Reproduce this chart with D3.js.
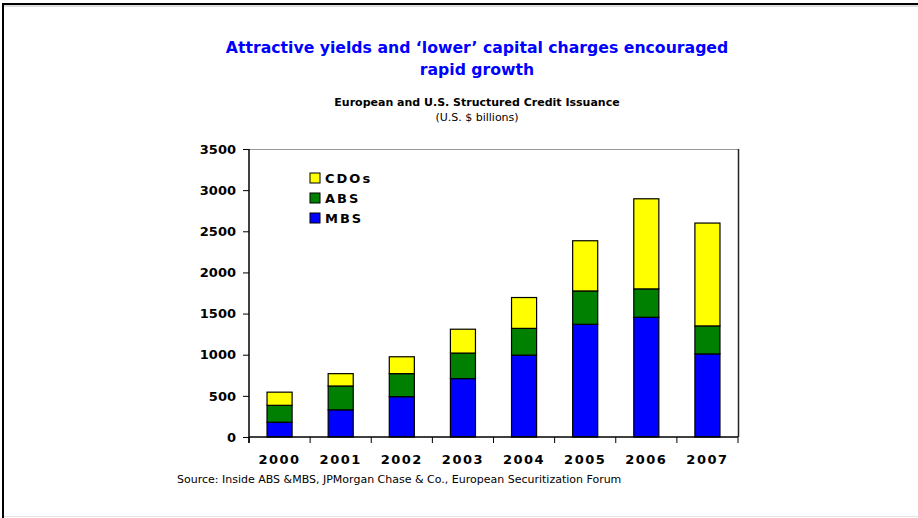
<!DOCTYPE html>
<html>
<head>
<meta charset="utf-8">
<script src="https://cdn.jsdelivr.net/npm/d3@7"></script>
<style>
  body { margin: 0; background: #fff; }
  svg { display: block; }
</style>
</head>
<body>
<svg id="chart"></svg>
<script>
var years = ["2000", "2001", "2002", "2003", "2004", "2005", "2006", "2007"];
var mbs = [180, 330, 490, 710, 995, 1370, 1455, 1010];
var abs = [205, 290, 280, 310, 325, 405, 345, 340];
var cdos = [160, 150, 205, 290, 375, 610, 1095, 1250];
var yTicks = [0, 500, 1000, 1500, 2000, 2500, 3000, 3500];
var seriesNames = ["MBS", "ABS", "CDOs"];
var seriesColors = ["#0000ff", "#008000", "#ffff00"];

var svgWidth = 918;
var svgHeight = 518;
var xMargin = 249;
var yMargin = 149;
var width = 489;
var height = 288;
var font = "Tahoma, 'DejaVu Sans', Verdana, sans-serif";

var svg = d3.select("#chart")
    .attr("width", svgWidth)
    .attr("height", svgHeight)
    .style("font-family", font);

// slide frame
svg.append("line").attr("x1", 2).attr("x2", svgWidth).attr("y1", 6).attr("y2", 6)
    .attr("stroke", "#bbb").attr("stroke-width", 1);
svg.append("line").attr("x1", 2).attr("x2", svgWidth).attr("y1", 4).attr("y2", 4)
    .attr("stroke", "#000").attr("stroke-width", 2);
svg.append("line").attr("x1", 3).attr("x2", 3).attr("y1", 3).attr("y2", svgHeight)
    .attr("stroke", "#000").attr("stroke-width", 2);
svg.append("line").attr("x1", 4).attr("x2", svgWidth).attr("y1", 516.5).attr("y2", 516.5)
    .attr("stroke", "#e4e4e4").attr("stroke-width", 1);

// titles
var title = svg.append("text")
    .attr("text-anchor", "middle")
    .attr("fill", "#0000ff")
    .attr("font-weight", "bold")
    .attr("font-size", "15.7px");
title.append("tspan").attr("x", 477).attr("y", 53).text("Attractive yields and \u2018lower\u2019 capital charges encouraged");
title.append("tspan").attr("x", 477).attr("y", 75).text("rapid growth");

svg.append("text")
    .attr("x", 477).attr("y", 106)
    .attr("text-anchor", "middle")
    .attr("font-weight", "bold")
    .attr("font-size", "11px")
    .text("European and U.S. Structured Credit Issuance");
svg.append("text")
    .attr("x", 477).attr("y", 121)
    .attr("text-anchor", "middle")
    .attr("font-size", "11px")
    .text("(U.S. $ billions)");

var xScale = d3.scaleBand()
    .domain(years)
    .range([0, width])
    .paddingInner(0.59)
    .paddingOuter(0.295);

var yScale = d3.scaleLinear()
    .domain([0, 3500])
    .range([height, 0]);

var g = svg.append("g")
    .attr("transform", "translate(" + xMargin + ", " + yMargin + ")");

// plot border
g.append("line").attr("x1", 0).attr("x2", width).attr("y1", 0.5).attr("y2", 0.5)
    .attr("stroke", "#999").attr("stroke-width", 1);
g.append("line").attr("x1", width + 0.5).attr("x2", width + 0.5).attr("y1", 0).attr("y2", height)
    .attr("stroke", "#222").attr("stroke-width", 1.5);

var stackData = years.map(function(y, i) {
    return { year: y, MBS: mbs[i], ABS: abs[i], CDOs: cdos[i] };
});
var stacked = d3.stack().keys(seriesNames)(stackData);

g.selectAll(".layer")
    .data(stacked)
    .enter()
    .append("g")
    .attr("class", "layer")
    .attr("fill", function(d, i) { return seriesColors[i]; })
    .selectAll("rect")
    .data(function(d) { return d; })
    .enter()
    .append("rect")
    .attr("x", function(d) { return xScale(d.data.year); })
    .attr("width", xScale.bandwidth())
    .attr("y", function(d) { return yScale(d[1]); })
    .attr("height", function(d) { return yScale(d[0]) - yScale(d[1]); })
    .attr("stroke", "#000")
    .attr("stroke-width", 1.2);

// y axis
var yAxis = g.append("g")
    .attr("class", "yAxis")
    .call(d3.axisLeft(yScale).tickValues(yTicks).tickFormat(d3.format("d")).tickSize(6).tickPadding(7));
yAxis.select(".domain").attr("d", "M0,0V" + (height + 6)).attr("stroke", "#000").attr("stroke-width", 1.5);
yAxis.selectAll(".tick line").attr("stroke", "#000");
yAxis.selectAll(".tick text")
    .attr("font-family", font)
    .attr("font-weight", "bold")
    .attr("font-size", "13px")
    .attr("fill", "#000");

// x axis with ticks between categories
var xAxis = g.append("g")
    .attr("class", "xAxis")
    .attr("transform", "translate(0, " + height + ")")
    .call(d3.axisBottom(xScale).tickSize(0).tickPadding(18));
xAxis.select(".domain").attr("d", "M0,0H" + width).attr("stroke", "#000").attr("stroke-width", 1.5);
xAxis.selectAll(".tick text")
    .attr("font-family", font)
    .attr("font-weight", "bold")
    .attr("font-size", "13px")
    .attr("letter-spacing", "1.5px")
    .attr("fill", "#000");
var step = xScale.step();
xAxis.selectAll(".sep")
    .data(d3.range(years.length + 1))
    .enter()
    .append("line")
    .attr("x1", function(d) { return d * step; })
    .attr("x2", function(d) { return d * step; })
    .attr("y1", 0).attr("y2", 6)
    .attr("stroke", "#000");

// legend
var legend = svg.append("g").attr("transform", "translate(310, 173)");
var legendItems = seriesNames.slice().reverse();
var legendColors = seriesColors.slice().reverse();
legendItems.forEach(function(name, i) {
    var row = legend.append("g").attr("transform", "translate(0, " + (i * 20) + ")");
    row.append("rect")
        .attr("width", 10).attr("height", 10)
        .attr("fill", legendColors[i])
        .attr("stroke", "#000").attr("stroke-width", 1);
    row.append("text")
        .attr("x", 15).attr("y", 10)
        .attr("font-weight", "bold")
        .attr("font-size", "13px")
        .attr("letter-spacing", "2px")
        .text(name);
});

svg.append("text")
    .attr("x", 177).attr("y", 483)
    .attr("font-size", "11px")
    .text("Source: Inside ABS &MBS, JPMorgan Chase & Co., European Securitization Forum");
</script>
</body>
</html>
